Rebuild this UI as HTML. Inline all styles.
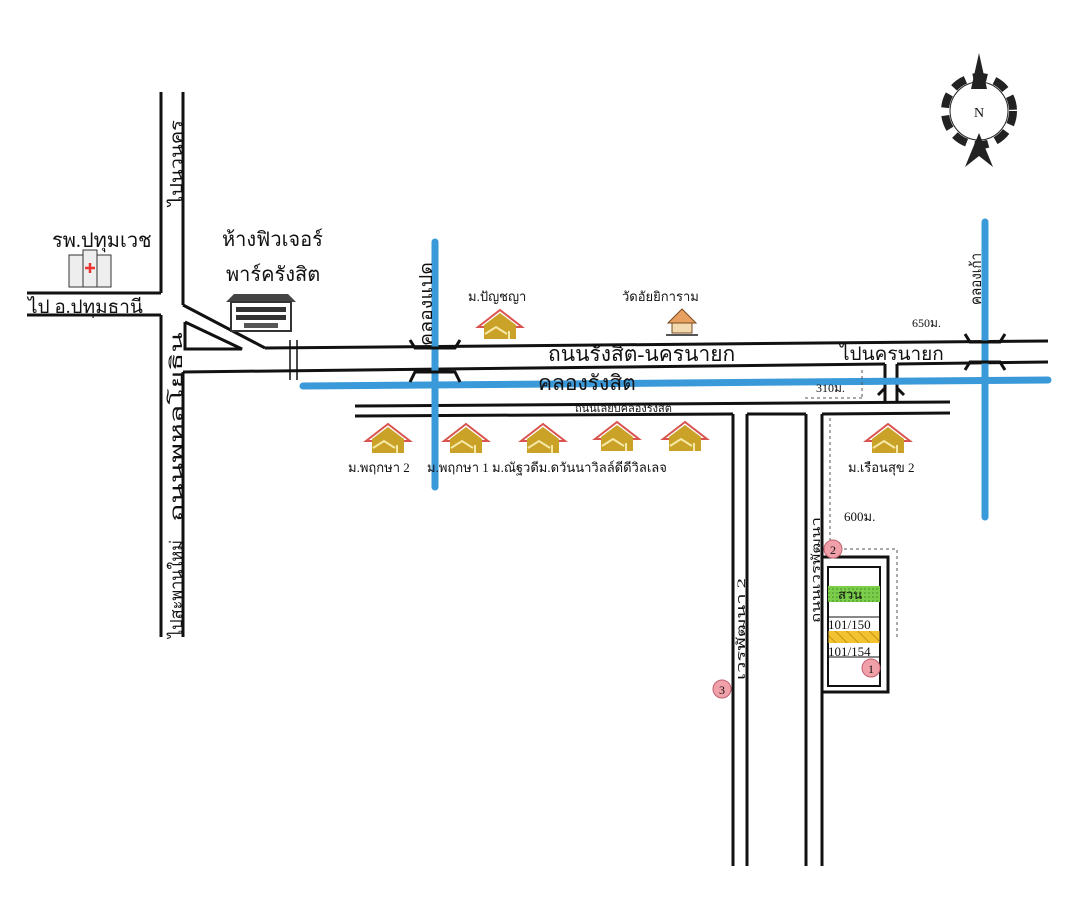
<!DOCTYPE html>
<html><head><meta charset="utf-8"><style>
html,body{margin:0;padding:0;background:#fff;}
svg{display:block;}
text{font-family:"Liberation Serif","Noto Serif CJK SC","Noto Sans CJK SC",serif;fill:#111;}
</style></head><body>
<svg width="1075" height="897" viewBox="0 0 1075 897" xmlns="http://www.w3.org/2000/svg">
<defs>
<g id="house">
  <polygon points="-22,4 0,-13 22,4" fill="none" stroke="#d9534f" stroke-width="2"/>
  <polygon points="-16,2 0,-10 16,2 16,16 -16,16" fill="#c9a227"/>
  <polyline points="-15,11 -4,4 7,11" fill="none" stroke="#f6e9a8" stroke-width="2"/>
  <line x1="9" y1="8" x2="9" y2="16" stroke="#f6e9a8" stroke-width="2"/>
</g>
<pattern id="hatch" width="8" height="8" patternUnits="userSpaceOnUse" patternTransform="rotate(-45)">
  <rect width="8" height="8" fill="#f2c230"/><line x1="0" y1="0" x2="0" y2="8" stroke="#b8860b" stroke-width="1.5"/>
</pattern>
<pattern id="dots" width="4" height="4" patternUnits="userSpaceOnUse">
  <rect width="4" height="4" fill="#7ccd4a"/><circle cx="1" cy="1" r="0.8" fill="#3e8e2a"/>
</pattern>
</defs>

<g stroke="#111" stroke-width="3" fill="none">
  <line x1="161" y1="92" x2="161" y2="293"/>
  <line x1="161" y1="315" x2="161" y2="637"/>
  <line x1="183" y1="92" x2="183" y2="305"/>
  <line x1="183" y1="372" x2="183" y2="637"/>
  <line x1="27" y1="293" x2="161" y2="293"/>
  <line x1="27" y1="315" x2="161" y2="315"/>
  <line x1="183" y1="305" x2="265" y2="348"/>
  <polyline points="185,322 185,349 242,349 185,322"/>
  <line x1="265" y1="348" x2="1048" y2="341"/>
  <line x1="183" y1="372" x2="885" y2="364"/>
  <line x1="897" y1="364" x2="1048" y2="362"/>
  <line x1="290" y1="340" x2="290" y2="380" stroke-width="1.5"/>
  <line x1="297" y1="340" x2="297" y2="380" stroke-width="1.5"/>
  <line x1="885" y1="364" x2="885" y2="402"/>
  <line x1="897" y1="364" x2="897" y2="402"/>
  <line x1="355" y1="406" x2="950" y2="402"/>
  <line x1="355" y1="416" x2="733" y2="414"/>
  <line x1="747" y1="414" x2="806" y2="414"/>
  <line x1="822" y1="414" x2="950" y2="413"/>
  <line x1="733" y1="414" x2="733" y2="866"/>
  <line x1="747" y1="414" x2="747" y2="866"/>
  <line x1="806" y1="414" x2="806" y2="866"/>
  <line x1="822" y1="414" x2="822" y2="557"/>
  <line x1="822" y1="692" x2="822" y2="866"/>
  <rect x="822" y="557" width="66" height="135"/>
  <rect x="828" y="567" width="52" height="119" stroke-width="2"/>
</g>

<g stroke="#3a9ad9" stroke-width="7" stroke-linecap="round" fill="none">
  <line x1="303" y1="386" x2="1048" y2="380"/>
  <line x1="435" y1="242" x2="435" y2="487"/>
  <line x1="985" y1="222" x2="985" y2="517"/>
</g>
<g stroke="#111" stroke-width="3" fill="none">
  <polyline points="410,340 415,348 455,348 460,340"/>
  <polyline points="410,382 415,372 455,372 460,382"/>
  <polyline points="965,334 970,342 1000,342 1005,334"/>
  <polyline points="965,370 970,362 1000,362 1005,370"/>
  <polyline points="878,395 885,388"/><polyline points="904,395 897,388"/>
</g>

<rect x="828" y="586" width="52" height="16" fill="url(#dots)"/>
<rect x="828" y="631" width="52" height="12" fill="url(#hatch)"/>
<rect x="828" y="617" width="52" height="40" fill="none" stroke="#111" stroke-width="1"/>

<g stroke="#555" stroke-width="1" stroke-dasharray="3,3" fill="none">
  <line x1="862" y1="370" x2="862" y2="398"/>
  <line x1="805" y1="398" x2="862" y2="398"/>
  <line x1="830" y1="418" x2="830" y2="540"/>
  <polyline points="844,549 897,549 897,637"/>
</g>

<use href="#house" x="388" y="437"/>
<use href="#house" x="466" y="437"/>
<use href="#house" x="543" y="437"/>
<use href="#house" x="617" y="435"/>
<use href="#house" x="685" y="435"/>
<use href="#house" x="888" y="437"/>
<use href="#house" x="500" y="323"/>
<g transform="translate(682,323)">
  <polygon points="-14,0 0,-14 14,0" fill="#e8a060" stroke="#7a4a20"/>
  <rect x="-10" y="0" width="20" height="10" fill="#f3d9b0" stroke="#7a4a20"/>
  <line x1="-16" y1="12" x2="16" y2="12" stroke="#555" stroke-width="2"/>
</g>
<g transform="translate(69,250)" stroke="#333" fill="#eee">
  <rect x="0" y="5" width="14" height="32"/><rect x="14" y="0" width="14" height="37"/><rect x="28" y="5" width="14" height="32"/>
  <path d="M21,13 v10 M16,18 h10" stroke="#e33" stroke-width="2.5"/>
</g>
<g transform="translate(226,294)">
  <polygon points="0,8 8,0 62,0 70,8" fill="#444"/>
  <rect x="5" y="8" width="60" height="29" fill="#fff" stroke="#333" stroke-width="2"/>
  <rect x="10" y="13" width="50" height="5" fill="#333"/><rect x="10" y="21" width="50" height="5" fill="#333"/><rect x="18" y="29" width="34" height="5" fill="#555"/>
</g>

<g fill="#f0a0a8" stroke="#c06070" stroke-width="1">
  <circle cx="871" cy="668" r="9"/><circle cx="833" cy="549" r="9"/><circle cx="722" cy="689" r="9"/>
</g>
<g font-size="12" text-anchor="middle"><text x="871" y="673">1</text><text x="833" y="554">2</text><text x="722" y="694">3</text></g>

<g transform="translate(979,111)">
  <circle r="34" fill="none" stroke="#222" stroke-width="8" stroke-dasharray="14,8"/>
  <circle r="29" fill="#fff" stroke="#222" stroke-width="1"/>
  <polygon points="0,-58 -8,-22 8,-22" fill="#222"/>
  <polygon points="0,22 -14,56 0,45 14,56" fill="#222"/>
  <text x="0" y="6" font-size="14" text-anchor="middle" font-family="Liberation Sans,sans-serif">N</text>
</g>

<g font-size="20">
  <text x="52" y="247">รพ.ปทุมเวช</text>
  <text x="222" y="246">ห้างฟิวเจอร์</text>
  <text x="226" y="281">พาร์ครังสิต</text>
  <text x="28" y="313" font-size="19">ไป อ.ปทุมธานี</text>
  <text x="548" y="361" font-size="21">ถนนรังสิต-นครนายก</text>
  <text x="538" y="390" font-size="21">คลองรังสิต</text>
  <text x="840" y="360" font-size="19">ไปนครนายก</text>
</g>
<g font-size="13">
  <text x="468" y="301">ม.ปัญชญา</text>
  <text x="622" y="301">วัดอัยยิการาม</text>
  <text x="348" y="472">ม.พฤกษา 2</text>
  <text x="427" y="472">ม.พฤกษา 1 ม.ณัฐวดีม.ดวันนาวิลล์ดีดีวิลเลจ</text>
  <text x="848" y="472">ม.เรือนสุข 2</text>
  <text x="575" y="412" font-size="11">ถนนเลียบคลองรังสิต</text>
  <text x="912" y="327" font-size="12">650ม.</text>
  <text x="816" y="392" font-size="12">310ม.</text>
  <text x="844" y="521" font-size="13">600ม.</text>
  <text x="838" y="599" font-size="13">สวน</text>
  <text x="828" y="629" font-size="13">101/150</text>
  <text x="828" y="656" font-size="13">101/154</text>
</g>
<g font-size="17">
  <text transform="translate(182,206) rotate(-90)" textLength="86" lengthAdjust="spacingAndGlyphs">ไปนวนคร</text>
  <text transform="translate(182,522) rotate(-90)" textLength="190" lengthAdjust="spacingAndGlyphs">ถนนพหลโยธิน</text>
  <text transform="translate(182,638) rotate(-90)" textLength="98" lengthAdjust="spacingAndGlyphs">ไปสะพานใหม่</text>
  <text transform="translate(432,346) rotate(-90)" font-size="18" textLength="84" lengthAdjust="spacingAndGlyphs">คลองแปด</text>
  <text transform="translate(981,305) rotate(-90)" font-size="15" textLength="52" lengthAdjust="spacingAndGlyphs">คลองเก้า</text>
</g>
<g font-size="12">
  <text transform="translate(820,623) rotate(-90)" textLength="106" lengthAdjust="spacingAndGlyphs">ถนนเวรพัฒนา</text>
  <text transform="translate(745,680) rotate(-90)" textLength="102" lengthAdjust="spacingAndGlyphs">เวรพัฒนา 2</text>
</g>
</svg>
</body></html>
